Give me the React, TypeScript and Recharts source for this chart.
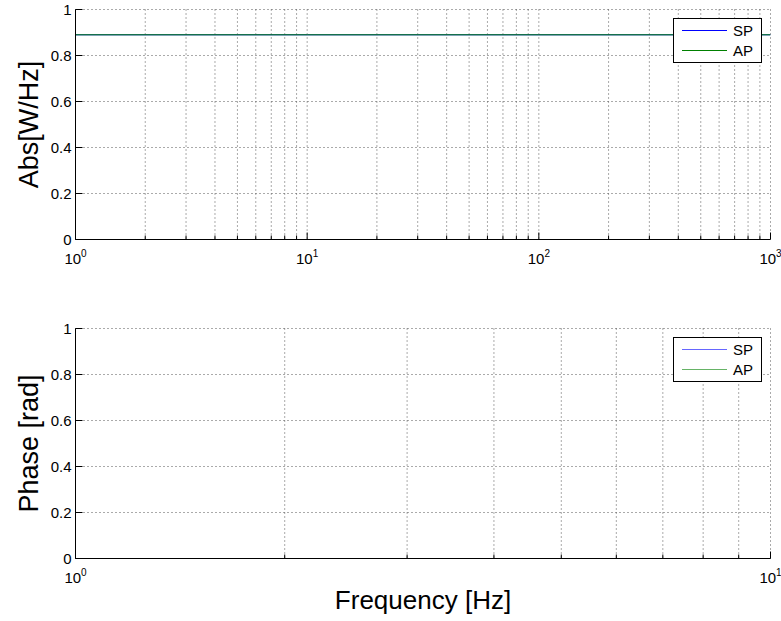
import React from "react";
import {
  LineChart,
  Line,
  XAxis,
  YAxis,
  CartesianGrid,
  Legend,
  Label,
} from "recharts";

// series data
const magFreq = [1, 10, 100, 1000];
const magSP = [0.89, 0.89, 0.89, 0.89];
const magAP = [0.89, 0.89, 0.89, 0.89];

const phaseFreq = [1, 2, 5, 10];
const phaseSP = [0, 0, 0, 0];
const phaseAP = [0, 0, 0, 0];

const seriesNames = ["SP", "AP"];
const seriesColors = ["#0000ff", "#008000"];
const fadedColors = ["#6666ff", "#66b366"];

// tick positions (log axes have minor ticks at 2..9 of each decade)
const magFreqTicks = [
  1, 2, 3, 4, 5, 6, 7, 8, 9,
  10, 20, 30, 40, 50, 60, 70, 80, 90,
  100, 200, 300, 400, 500, 600, 700, 800, 900,
  1000,
];
const phaseFreqTicks = [1, 2, 3, 4, 5, 6, 7, 8, 9, 10];
const valueTicks = [0, 0.2, 0.4, 0.6, 0.8, 1];

const magData = magFreq.map((f, i) => ({ f, SP: magSP[i], AP: magAP[i] }));
const phaseData = phaseFreq.map((f, i) => ({ f, SP: phaseSP[i], AP: phaseAP[i] }));

const FONT = "'Liberation Sans', Arial, Helvetica, sans-serif";

const XTick = (props: any) => {
  const { x, y, payload, side } = props;
  const v = payload.value;
  const exp = Math.log10(v);
  const major = Math.abs(exp - Math.round(exp)) < 1e-9;
  const len = major ? 7 : 4;
  const dir = side === "top" ? 1 : -1;
  return (
    <g>
      <line x1={x} x2={x} y1={y} y2={y + dir * len} stroke="#000" />
      {side === "bottom" && major && (
        <text x={x} y={y + 24} textAnchor="middle" fontSize={15} fill="#000" fontFamily={FONT}>
          10
          <tspan dy={-7} fontSize={10}>
            {Math.round(exp)}
          </tspan>
        </text>
      )}
    </g>
  );
};

const YTick = (props: any) => {
  const { x, y, payload, side } = props;
  const dir = side === "left" ? 1 : -1;
  return (
    <g>
      <line x1={x} x2={x + dir * 7} y1={y} y2={y} stroke="#000" />
      {side === "left" && (
        <text x={x - 4} y={y} dy="0.35em" textAnchor="end" fontSize={15} fill="#000" fontFamily={FONT}>
          {String(payload.value)}
        </text>
      )}
    </g>
  );
};

const YLabel = (props: any) => {
  const { viewBox, text } = props;
  const cx = viewBox.x + 28;
  const cy = viewBox.y + viewBox.height / 2;
  return (
    <text
      x={cx}
      y={cy}
      transform={`rotate(-90 ${cx} ${cy})`}
      textAnchor="middle"
      dy="0.35em"
      fontSize={27}
      fill="#000"
      fontFamily={FONT}
    >
      {text}
    </text>
  );
};

const LegendBox = ({ faded }: any) => {
  const colors = faded ? fadedColors : seriesColors;
  return (
    <svg width={89} height={45} style={{ display: "block" }}>
      <rect x={0.5} y={0.5} width={88} height={44} fill="#fff" stroke="#000" />
      {seriesNames.map((name, i) => (
        <g key={name}>
          <line x1={9} x2={54} y1={12.5 + i * 20} y2={12.5 + i * 20} stroke={colors[i]} />
          <text x={60} y={12.5 + i * 20} dy="0.35em" fontSize={15} fill="#000" fontFamily={FONT}>
            {name}
          </text>
        </g>
      ))}
    </svg>
  );
};

const Panel = ({
  data,
  ticks,
  domain,
  height,
  margin,
  xHeight,
  yLabel,
  xLabel,
  legendTop,
  faded,
}: any) => (
  <LineChart width={781} height={height} data={data} margin={margin}>
    <CartesianGrid stroke="#555" strokeDasharray="1 3" />
    <XAxis
      dataKey="f"
      type="number"
      scale="log"
      domain={domain}
      ticks={ticks}
      interval={0}
      allowDataOverflow
      height={xHeight}
      tickSize={0}
      tickMargin={0}
      axisLine={{ stroke: "#000" }}
      tick={(p: any) => <XTick {...p} side="bottom" />}
    >
      {xLabel && (
        <Label
          content={(p: any) => (
            <text
              x={p.viewBox.x + p.viewBox.width / 2}
              y={p.viewBox.y + 50}
              textAnchor="middle"
              fontSize={26}
              fill="#000"
              fontFamily={FONT}
            >
              {xLabel}
            </text>
          )}
        />
      )}
    </XAxis>
    <XAxis
      xAxisId="top"
      dataKey="f"
      type="number"
      scale="log"
      orientation="top"
      domain={domain}
      ticks={ticks}
      interval={0}
      allowDataOverflow
      height={0}
      tickSize={0}
      tickMargin={0}
      axisLine={{ stroke: "#000" }}
      tick={(p: any) => <XTick {...p} side="top" />}
    />
    <YAxis
      type="number"
      domain={[0, 1]}
      ticks={valueTicks}
      interval={0}
      width={75}
      tickSize={0}
      tickMargin={0}
      axisLine={{ stroke: "#000" }}
      tick={(p: any) => <YTick {...p} side="left" />}
    >
      <Label content={(p: any) => <YLabel {...p} text={yLabel} />} />
    </YAxis>
    <YAxis
      yAxisId="right"
      orientation="right"
      type="number"
      domain={[0, 1]}
      ticks={valueTicks}
      interval={0}
      width={0}
      tickSize={0}
      tickMargin={0}
      axisLine={{ stroke: "#000" }}
      tick={(p: any) => <YTick {...p} side="right" />}
    />
    <Legend
      layout="vertical"
      align="center"
      verticalAlign="middle"
      wrapperStyle={{ top: legendTop, left: 673, width: 89, height: 45 }}
      content={() => <LegendBox faded={faded} />}
    />
    {seriesNames.map((name, i) => (
      <Line
        key={name}
        dataKey={name}
        name={name}
        stroke={seriesColors[i]}
        strokeWidth={1}
        dot={false}
        activeDot={false}
        isAnimationActive={false}
      />
    ))}
  </LineChart>
);

export default function App() {
  return (
    <div
      style={{
        position: "absolute",
        left: 0,
        top: 0,
        width: 781,
        height: 621,
        background: "#fff",
        fontFamily: FONT,
      }}
    >
      <Panel
        data={magData}
        ticks={magFreqTicks}
        domain={[1, 1000]}
        height={290}
        margin={{ top: 9.5, right: 10.5, bottom: 0, left: 0.5 }}
        xHeight={50.5}
        yLabel="Abs[W/Hz]"
        legendTop={18}
      />
      <Panel
        data={phaseData}
        ticks={phaseFreqTicks}
        domain={[1, 10]}
        height={331}
        margin={{ top: 38.5, right: 10.5, bottom: 0, left: 0.5 }}
        xHeight={62.5}
        yLabel="Phase [rad]"
        xLabel="Frequency [Hz]"
        legendTop={47}
        faded
      />
    </div>
  );
}
